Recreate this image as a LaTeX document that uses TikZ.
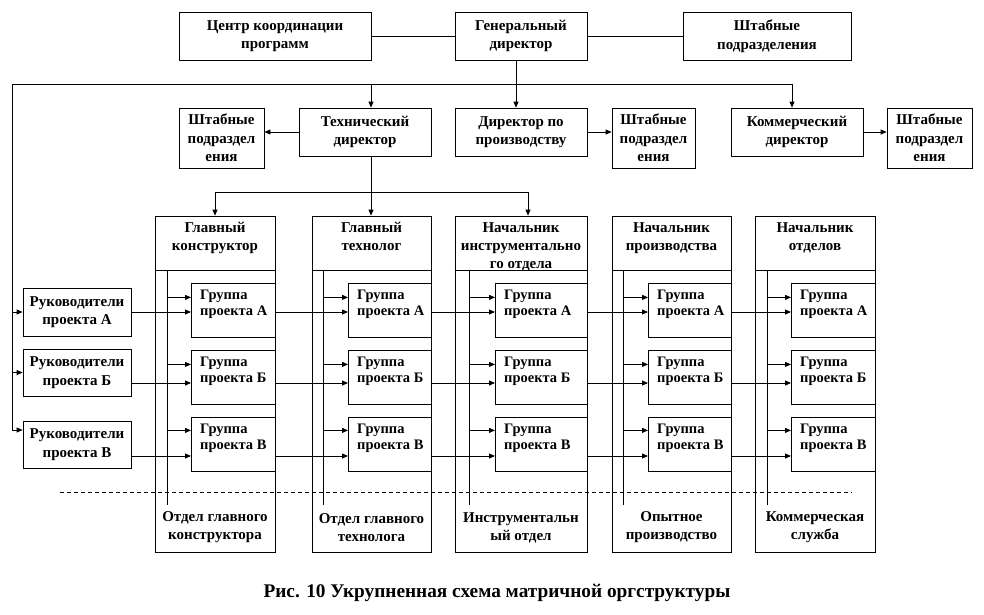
\documentclass[tikz,border=0pt]{standalone}
\usepackage{fontspec}
\setmainfont{Liberation Serif}
\usetikzlibrary{arrows.meta,calc}
\begin{document}
\begin{tikzpicture}[x=1pt,y=-1pt,
  ln/.style={line width=0.8pt},
  box/.style={draw, line width=0.8pt, inner sep=0pt, align=center,
              font=\fontsize{15}{18.5}\selectfont\bfseries},
  txt/.style={inner sep=0pt, align=center, font=\fontsize{15}{18}\selectfont\bfseries},
  gtxt/.style={inner sep=0pt, align=left, font=\fontsize{14.5}{15.5}\selectfont\bfseries},
  arr/.style={line width=0.8pt, -{Triangle[length=6pt,width=5pt]}}]
\useasboundingbox (0,0) rectangle (984,614);

% top row
\node[box, minimum width=192, minimum height=48] (cc) at (275,36) {Центр координации\\программ};
\node[box, minimum width=132, minimum height=48] (gd) at (521,36) {Генеральный\\директор};
\node[box, minimum width=168, minimum height=48] (sh0) at (767,36) {Штабные\\подразделения};
\draw[ln] (cc) -- (gd);
\draw[ln] (gd) -- (sh0);

% second row
\node[box, minimum width=85, minimum height=60] (sl) at (221.5,138) {Штабные\\подраздел\\ения};
\node[box, minimum width=132, minimum height=48] (td) at (365,132) {Технический\\директор};
\node[box, minimum width=132, minimum height=48] (dp) at (521,132) {Директор по\\производству};
\node[box, minimum width=83, minimum height=60] (sm) at (653.5,138) {Штабные\\подраздел\\ения};
\node[box, minimum width=132, minimum height=48] (kd) at (797,132) {Коммерческий\\директор};
\node[box, minimum width=85, minimum height=60] (sr) at (929.5,138) {Штабные\\подраздел\\ения};
\draw[arr] (td.west) -- (td.west -| sl.east);
\draw[arr] (dp.east) -- (dp.east -| sm.west);
\draw[arr] (kd.east) -- (kd.east -| sr.west);

% distribution line
\coordinate (tl) at (12,84);
\coordinate (hub) at (516,84);
\coordinate (a1) at (371,84);
\coordinate (a3) at (792,84);
\draw[ln] (hub |- gd.south) -- (hub);
\draw[ln] (tl) -- (a3);
\draw[arr] (a1) -- (a1 |- td.north);
\draw[arr] (hub) -- (hub |- dp.north);
\draw[arr] (a3) -- (a3 |- kd.north);

% columns
\foreach \c/\cx/\w/\vx/\gx/\hd/\ft in {
  1/215/120/167/191/{Главный\\конструктор}/{Отдел главного\\конструктора},
  2/371.5/119/323/348/{Главный\\технолог}/{Отдел главного\\технолога},
  3/521/132/469/495/{Начальник\\инструментально\\го отдела}/{Инструментальн\\ый отдел},
  4/671.5/119/623/648/{Начальник\\производства}/{Опытное\\производство},
  5/815/120/767/791/{Начальник\\отделов}/{Коммерческая\\служба}} {
  \node[draw, ln, minimum width=\w, minimum height=336, inner sep=0pt] (c\c) at (\cx,384) {};
  \draw[ln] (c\c.west |- 0,270) -- (c\c.east |- 0,270);
  \node[txt, anchor=north] (h\c) at (\cx,222) {\hd};
  \node[txt] (f\c) at (\cx,527.5) {\ft};
  \coordinate (v\c t) at (\vx,270);
  \coordinate (v\c b) at (\vx,505);
  \draw[ln] (v\c t) -- (v\c b);
  \path let \p1 = (c\c.east) in
    node[draw, ln, minimum width={\x1-\gx}, minimum height=54, inner sep=0pt, anchor=north west] (g\c A) at (\gx,283) {}
    node[draw, ln, minimum width={\x1-\gx}, minimum height=54, inner sep=0pt, anchor=north west] (g\c B) at (\gx,350) {}
    node[draw, ln, minimum width={\x1-\gx}, minimum height=54, inner sep=0pt, anchor=north west] (g\c V) at (\gx,417) {};
  \node[gtxt, anchor=north west] (t\c A) at ($(g\c A.north west)+(9,7)$) {Группа\\проекта А};
  \node[gtxt, anchor=north west] (t\c B) at ($(g\c B.north west)+(9,7)$) {Группа\\проекта Б};
  \node[gtxt, anchor=north west] (t\c V) at ($(g\c V.north west)+(9,7)$) {Группа\\проекта В};
  \coordinate (u\c A) at ($(g\c A.west)+(0,-13)$);
  \coordinate (u\c B) at ($(g\c B.west)+(0,-13)$);
  \coordinate (u\c V) at ($(g\c V.west)+(0,-14)$);
  \draw[arr] (v\c t |- u\c A) -- (u\c A);
  \draw[arr] (v\c t |- u\c B) -- (u\c B);
  \draw[arr] (v\c t |- u\c V) -- (u\c V);
}

% technical director distribution
\coordinate (b1) at (371,192);
\coordinate (b0) at (215,192);
\coordinate (b2) at (528,192);
\draw[ln] (td.south -| b1) -- (b1);
\draw[ln] (b0) -- (b2);
\draw[arr] (b0) -- (b0 |- c1.north);
\draw[arr] (b1) -- (b1 |- c2.north);
\draw[arr] (b2) -- (b2 |- c3.north);

% project managers
\node[box, minimum width=108, minimum height=48] (rA) at (77,312) {Руководители\\проекта А};
\node[box, minimum width=108, minimum height=47] (rB) at (77,372.5) {Руководители\\проекта Б};
\node[box, minimum width=108, minimum height=47] (rV) at (77,444.5) {Руководители\\проекта В};
\draw[ln] (tl) -- (tl |- 0,430);
\coordinate (rVa) at ($(rV.west)+(0,-14.5)$);
\draw[arr] (tl |- rA.west) -- (rA.west);
\draw[arr] (tl |- rB.west) -- (rB.west);
\draw[arr] (tl |- rVa) -- (rVa);

\coordinate (lA) at (rA.east);
\coordinate (lB) at ($(rB.east)+(0,10.5)$);
\coordinate (lV) at ($(rV.east)+(0,11.5)$);
\foreach \r in {A,B,V} {
  \draw[arr] (l\r) -- (l\r -| g1\r.west);
  \draw[arr] (l\r -| g1\r.east) -- (l\r -| g2\r.west);
  \draw[arr] (l\r -| g2\r.east) -- (l\r -| g3\r.west);
  \draw[arr] (l\r -| g3\r.east) -- (l\r -| g4\r.west);
  \draw[arr] (l\r -| g4\r.east) -- (l\r -| g5\r.west);
}

% dashed separator
\coordinate (d0) at (60,492);
\coordinate (d1) at (852,492);
\draw[ln, dash pattern=on 4pt off 3pt] (d0) -- (d1);

% caption
\node[inner sep=0pt, font=\fontsize{19.3}{21}\selectfont\bfseries] (cap) at (497,593) {Рис. 10 Укрупненная схема матричной оргструктуры};
\end{tikzpicture}
\end{document}
